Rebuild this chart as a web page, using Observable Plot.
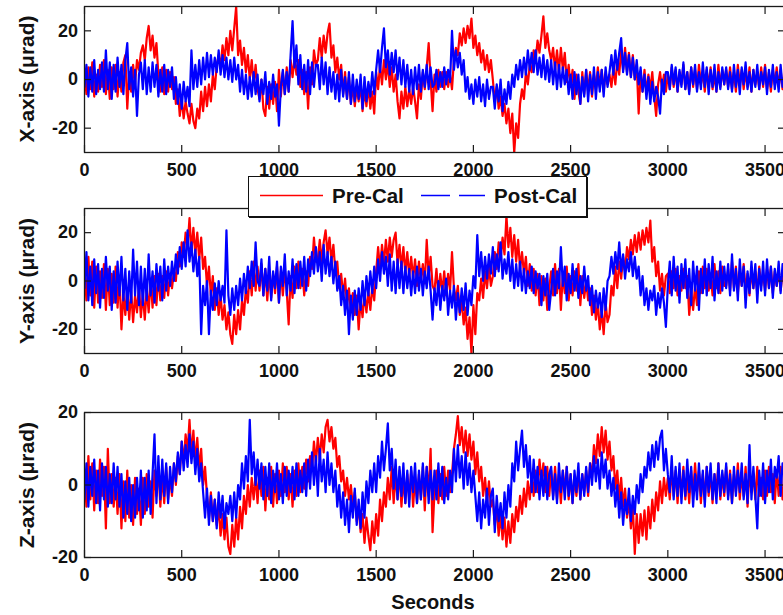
<!DOCTYPE html>
<html>
<head>
<meta charset="utf-8">
<script src="https://cdn.jsdelivr.net/npm/d3@7"></script>
<script src="https://cdn.jsdelivr.net/npm/@observablehq/plot@0.6"></script>
<style>
html, body { margin: 0; padding: 0; background: #fff; overflow: hidden; width: 783px; height: 615px; }
#wrap { position: relative; width: 783px; height: 615px; overflow: hidden; font-family: "Liberation Sans", Arial, sans-serif; font-weight: bold; color: #111; }
.panel { position: absolute; left: 0; width: 800px; }
.ylab { position: absolute; font-size: 21px; line-height: 21px; white-space: nowrap; transform: translate(-50%, -50%) rotate(-90deg); }
#xlab { position: absolute; left: 433px; top: 592px; font-size: 20px; line-height: 20px; transform: translateX(-50%); white-space: nowrap; }
#legend { position: absolute; left: 248px; top: 176px; width: 337px; height: 39px; border: 1px solid #111; background: #fff; box-shadow: 1px 1px 0 #111; }
</style>
</head>
<body>
<div id="wrap">
  <div class="panel" id="p1" style="top:0px"></div>
  <div class="panel" id="p2" style="top:185px"></div>
  <div class="panel" id="p3" style="top:390px"></div>
  <div class="ylab" style="left:26px; top:79px">X-axis (μrad)</div>
  <div class="ylab" style="left:26px; top:280.5px">Y-axis (μrad)</div>
  <div class="ylab" style="left:26px; top:484.5px">Z-axis (μrad)</div>
  <div id="xlab">Seconds</div>
  <div id="legend">
    <svg width="337" height="39" style="position:absolute;left:0;top:0;overflow:visible">
      <line x1="11" y1="18.5" x2="74" y2="18.5" stroke="#ff0000" stroke-width="1.5"></line>
      <text x="83" y="26" font-family="Liberation Sans, Arial, sans-serif" font-weight="bold" font-size="20.5" fill="#111">Pre-Cal</text>
      <line x1="172" y1="18.5" x2="236" y2="18.5" stroke="#0000ff" stroke-width="1.5" stroke-dasharray="29 9"></line>
      <text x="245" y="26" font-family="Liberation Sans, Arial, sans-serif" font-weight="bold" font-size="20.5" fill="#111">Post-Cal</text>
    </svg>
  </div>
</div>
<script>
// Sampling step (seconds) of the hand-read series; one row = 300 s
const STEP = 10;
const xTicks = [0, 500, 1000, 1500, 2000, 2500, 3000, 3500];
const yTicksXY = [-20, 0, 20];
const yTicksZ = [-20, 0, 20];

// X-axis, Pre-Cal (red)
const xPre = [
  3,-6,5,-4,7,-7,2,-5,6,-3,8,-6,4,-8,5,-4,6,-7,3,-5,7,10,-12,3,-5,6,-2,8,4,11,
  14,8,17,22,12,18,9,15,2,-5,5,-6,4,-5,3,-4,1,-10,-4,-15,-8,-16,-9,-14,-18,-10,-17,-20,-12,-16,
  -5,-13,-3,-11,-2,-9,2,-4,6,10,5,14,8,17,10,20,12,21,30,10,16,6,13,3,10,0,8,-2,6,-4,
  -8,0,-12,-15,-3,-12,-2,-10,-1,-13,4,-7,3,-6,5,-5,8,1,9,2,8,-3,4,-6,3,-12,5,-2,12,6,
  8,17,9,18,11,19,23,9,14,3,9,0,6,-6,3,-8,1,-10,-2,-11,-3,-9,-2,-13,-4,-11,-2,-12,-5,-14,
  3,-4,6,-2,8,0,7,-3,5,-5,2,-9,-16,-5,-12,-3,-11,-4,-10,-3,-9,-16,-2,-8,3,-4,5,15,0,-13,
  2,-5,4,-3,3,-4,3,-3,2,-4,8,13,10,19,14,21,15,22,17,25,13,18,10,15,7,12,4,10,3,8,
  0,-9,-3,-12,-7,-15,-10,-18,-12,-22,-14,-30,-18,-24,-10,-4,-8,3,-2,6,3,12,8,16,11,18,26,13,19,12,
  8,13,4,12,3,13,4,11,-1,6,-3,4,-8,2,-5,-10,3,-6,4,-5,3,-7,2,-4,5,-3,4,-5,3,-2,
  2,-3,5,-2,8,2,12,4,13,3,11,1,10,0,6,-14,3,-5,4,-6,2,-4,3,-7,-15,-2,3,-4,2,-5,
  2,-4,5,-3,4,-5,3,-2,6,-4,3,-5,5,-3,4,-4,6,-2,3,-5,4,-3,5,-4,2,-5,6,-3,4,-2,
  4,-3,5,-4,3,-5,6,-2,4,-4,3,-3,5,-5,4,-2,3,-4,5,-3,6,-4,3,-5,4,-2,5,-3,4,-4,
  2
];
// X-axis, Post-Cal (blue)
const xPost = [
  -3,6,-7,5,-5,8,-6,4,-4,7,-5,12,-4,7,-8,6,-5,9,-3,6,-6,8,15,-4,5,-7,4,-15,2,7,
  -4,8,-6,5,-5,7,-3,6,-7,4,-5,6,-6,4,-3,5,-8,1,-10,-2,-12,-1,-9,-3,-11,12,-4,6,-3,8,
  -2,9,0,11,1,10,2,9,3,12,2,10,1,9,0,8,-1,9,0,6,-5,4,-6,2,-8,1,-7,3,-6,2,
  -9,0,-6,3,-10,-1,-8,2,-7,-2,-19,-3,4,-6,3,-5,10,24,5,14,-2,10,-4,6,-5,8,-6,7,-3,6,
  6,-4,9,-2,7,-6,5,-5,3,-8,2,-9,4,-7,1,-8,3,-10,2,-9,0,-8,2,-12,1,-9,-1,-7,3,-6,
  4,12,3,13,21,5,12,2,11,3,12,0,9,-2,8,-3,6,-5,4,-6,5,-4,6,-5,4,-3,6,-4,5,-3,
  -2,4,-4,3,-3,5,-2,4,-1,20,4,12,5,11,2,8,-5,1,-8,-2,-10,0,-7,1,-9,-2,-11,0,-8,-3,
  -3,-12,-2,-9,0,-13,-4,-10,-1,-8,2,-3,6,0,8,1,9,2,12,4,11,3,12,2,9,1,10,0,8,-1,
  8,-2,7,-4,6,-3,5,-2,4,-6,2,-8,3,-6,2,-10,1,-7,4,-9,2,-6,5,-8,3,-5,4,-7,5,-3,
  3,10,2,12,4,11,17,3,11,2,10,1,9,0,8,-2,5,-5,2,-8,1,-10,-1,-9,-3,-7,-14,0,-6,3,
  3,-4,6,-2,5,-5,4,-3,7,-4,3,-6,5,-2,6,-5,3,-4,7,-3,5,-6,4,-3,6,-5,3,-4,5,-2,
  5,-4,3,-5,6,-3,4,-6,5,-2,7,-4,3,-5,4,-3,6,-4,3,-2,5,-6,4,-3,6,-4,3,-5,6,-3,
  2
];
// Y-axis, Pre-Cal (red)
const yPre = [
  5,-8,10,-6,8,-11,6,-9,4,-7,7,-12,5,-10,3,-9,6,-11,2,-20,-5,-14,-3,-16,-4,-17,-6,-13,-2,-15,
  -5,-16,-3,-13,1,-11,2,-10,3,-8,2,-7,4,-6,3,-3,4,0,12,6,16,10,20,14,26,12,22,11,20,9,
  18,5,10,-2,6,-6,2,-12,-3,-14,-6,-16,-10,-20,-13,-22,-26,-14,-22,-12,-20,-8,-14,-3,-9,4,-6,8,-4,6,
  -4,7,-6,5,-8,4,-7,3,-5,6,-9,4,-6,5,-4,-18,2,-7,6,-3,8,-3,5,-6,4,-2,10,5,18,8,
  9,17,8,16,21,11,18,8,15,4,8,-3,3,-6,1,-10,-3,-13,-5,-14,-6,-20,-8,-15,-5,-13,-4,-12,-2,-8,
  4,14,5,15,7,17,8,18,10,17,20,7,15,5,14,3,12,2,10,1,9,-2,8,0,7,-1,17,2,10,-2,
  -4,5,-6,3,-5,4,-6,3,-4,12,-3,-8,-2,-14,-8,-18,-11,-24,-15,-30,-10,-22,-5,-8,1,-7,4,-3,6,-2,
  2,12,5,16,9,18,11,27,14,22,10,19,8,17,5,12,3,10,-2,7,-4,5,-6,3,-10,2,-8,1,-12,-3,
  4,-6,7,-5,5,-12,3,-5,6,-8,2,-6,4,-4,7,-10,2,-7,0,-8,-3,-14,-6,-16,-9,-20,-12,-22,-9,-17,
  -14,-2,-6,6,-3,8,1,10,4,14,9,17,11,19,12,20,13,21,15,22,16,25,8,14,2,8,-4,3,-6,2,
  3,-5,4,-3,5,-6,2,-4,5,-3,2,-14,-4,-12,-2,-10,4,-5,6,-3,5,-4,3,-6,7,-3,4,-5,6,-2,
  -2,5,-4,8,-3,6,-5,4,-2,7,-4,3,-6,5,-3,4,-5,6,-2,3,-4,5,-3,6,-5,4,-2,5,-4,3,
  1
];
// Y-axis, Post-Cal (blue)
const yPost = [
  -3,12,-8,6,-10,9,-5,7,-11,5,-7,10,-4,6,-12,4,-9,8,-6,10,-8,5,-12,4,-9,13,-6,8,-10,6,
  -10,5,-8,11,-6,4,-9,7,-4,6,-8,9,-4,6,-2,8,0,11,3,14,5,16,6,21,8,16,4,13,2,10,
  -22,-2,-10,0,-22,-4,-12,-1,-10,0,-8,-2,-9,21,-6,-14,-3,-12,-2,-10,1,-8,3,-5,6,-3,8,-2,16,0,
  -2,9,-6,5,-4,10,-8,4,-3,8,-9,6,-2,11,-6,4,-4,9,-5,7,-3,8,-2,10,-4,9,2,12,3,14,
  4,12,0,15,3,12,2,10,-1,8,-4,2,-10,-2,-14,-4,-22,-6,-16,-4,-14,-3,-12,0,-10,2,-6,4,-5,6,
  -3,9,0,12,3,10,-2,11,-4,8,-5,9,-3,8,-5,6,-3,5,-6,4,-5,6,-4,5,-6,4,-3,6,-4,-16,
  -3,-10,0,-12,-2,-8,1,-14,-4,-11,-2,-16,-5,-13,-3,-12,-1,-14,-4,-10,2,-3,19,2,12,0,10,1,11,3,
  14,2,11,4,16,1,9,3,12,0,9,-3,7,-2,8,-4,5,-5,4,-3,6,-5,4,-3,3,-10,2,-6,3,-12,
  -4,5,-6,4,-3,14,-2,6,-8,3,-5,7,-4,5,-7,2,-5,6,-4,2,-10,-2,-13,-4,-11,-5,-15,-3,-12,0,
  2,10,3,12,5,16,4,11,1,9,4,12,2,10,1,6,-6,2,-10,-3,-12,-4,-8,-2,-14,-5,-11,-3,-9,-19,
  -2,8,-6,10,-4,6,-9,7,-3,9,-7,5,-10,8,-4,6,-12,5,-5,9,-6,7,-3,10,-8,4,-5,8,-4,6,
  -3,7,-6,11,-4,5,-8,9,-2,6,-11,4,-5,8,-3,7,-9,5,-4,8,-6,9,-3,6,-7,5,-2,8,-5,7,
  0
];
// Z-axis, Pre-Cal (red)
const zPre = [
  3,-6,8,-4,6,-7,4,-5,7,-3,5,-12,10,-5,3,-6,2,-8,3,-12,1,-10,4,-9,0,-11,2,-8,-1,-11,
  2,-8,3,-6,1,-9,4,-3,5,-6,3,-5,5,-4,2,-3,6,0,8,3,12,6,14,9,18,8,15,6,13,4,
  10,0,5,-3,-9,-2,-10,-4,-11,-6,-14,-8,-15,-9,-17,-19,-11,-17,-9,-15,-6,-12,-3,-8,0,-6,2,-4,3,-5,
  4,-3,5,-7,2,-4,5,-6,3,-5,4,-3,6,-2,5,-4,3,-6,4,-3,6,-2,5,-1,7,1,8,4,12,6,
  13,7,14,9,16,18,12,16,10,13,5,8,1,4,-3,2,-4,0,-6,-2,-10,-6,-13,-8,-16,-9,-14,-18,-10,-16,
  -8,-14,-4,-10,-2,-6,2,-4,5,-5,3,-4,4,-6,2,-5,3,-4,4,-6,2,-5,3,-4,5,-7,5,-3,10,-13,
  -2,4,-5,3,-4,5,-3,4,-2,3,10,14,19,11,16,9,15,8,14,7,12,3,9,1,5,-3,2,-5,1,-6,
  -4,-11,-6,-14,-8,-15,-9,-17,-10,-16,-8,-13,-6,-10,-3,-8,-1,-6,1,-4,3,-3,4,-2,7,1,6,-2,5,-3,
  4,-3,5,-4,3,-5,4,-2,5,-4,3,-5,2,-3,4,-4,3,-2,4,-3,6,2,11,6,14,8,16,9,15,7,
  12,4,8,-1,4,-4,2,-6,-1,-9,-4,-12,-6,-19,-8,-16,-8,-14,-7,-15,-6,-12,-4,-10,-2,-7,1,-5,2,-3,
  2,-4,5,-3,4,-5,3,-2,5,-4,3,-5,4,-3,6,-2,4,-5,3,-4,5,-3,4,-5,3,-2,6,-4,3,-3,
  5,-3,4,-5,3,-2,6,-4,3,-3,5,-6,4,-2,3,-4,5,-3,2,-4,4,-3,5,-2,3,-5,4,-3,5,-4,
  1
];
// Z-axis, Post-Cal (blue)
const zPost = [
  -4,6,-6,5,-3,7,-5,4,-7,6,-4,5,-6,3,-5,6,-4,5,-6,3,-9,1,-8,2,-10,0,-9,2,-7,4,
  -9,2,-7,4,-8,3,14,-5,8,-4,7,-3,6,-5,5,-2,6,1,9,3,12,4,11,5,14,6,12,3,10,1,
  6,-2,-9,-1,-11,-3,-10,-4,-12,-2,-9,-3,-12,-5,-8,-3,-10,-2,-9,0,-4,6,-1,8,1,18,3,9,0,7,
  -1,6,-4,5,-3,6,-5,4,-2,6,-4,3,-5,5,-3,4,-2,5,-4,6,-3,4,-2,6,-3,7,-1,9,0,8,
  -3,10,1,7,-2,9,0,6,-2,4,-6,0,-9,-2,-11,-4,-13,-3,-9,-1,-11,-4,-12,-2,-9,1,-5,4,-2,6,
  -2,8,2,12,4,10,17,4,10,-1,7,-4,5,-3,6,-5,4,-6,5,-2,6,-5,4,-4,6,-3,5,-5,4,-4,
  4,-4,6,-3,5,-5,2,-4,4,-2,10,1,11,2,8,-1,9,0,6,-2,4,-3,-10,-2,-12,-4,-9,-1,-11,-3,
  -1,-13,-3,-10,-5,-12,-2,-9,0,-6,6,1,12,4,10,15,5,11,2,8,-2,7,-2,5,-4,4,-3,5,-4,3,
  5,-4,3,-5,6,-2,4,-4,5,-3,3,-5,4,-2,6,-4,3,-3,5,-2,6,0,8,1,7,-1,9,2,7,-1,
  4,-3,2,-6,0,-9,-2,-11,-4,-8,-1,-10,-3,-8,0,-5,3,-2,5,2,9,4,11,5,12,7,13,15,4,10,
  3,-2,8,-4,5,-3,6,-5,4,-3,7,-2,5,-6,3,-4,6,-3,4,-6,5,-2,6,-4,3,-5,6,-3,4,-2,
  6,-4,3,-5,5,-3,4,-2,6,-4,3,-5,11,-4,5,-3,-12,4,-3,6,-5,4,-2,7,-4,5,2,8,-3,6,
  3
];

const fmt = d => String(d);
const toPts = vals => vals.map((v, i) => ({t: i * STEP, v}));

function panel(pre, post, yDomain, yTicks, marginTop, height) {
  return Plot.plot({
    width: 800,
    height,
    marginLeft: 84,
    marginRight: 16,
    marginTop,
    marginBottom: 30,
    style: {background: "transparent", overflow: "visible", fontFamily: "Liberation Sans, Arial, sans-serif", fontWeight: "bold", fontSize: "18px", color: "#111"},
    x: {domain: [0, 3600], label: null},
    y: {domain: yDomain, label: null},
    marks: [
      Plot.line(toPts(pre), {x: "t", y: "v", stroke: "#ff0000", strokeWidth: 2.2, clip: true}),
      Plot.line(toPts(post), {x: "t", y: "v", stroke: "#0000ff", strokeWidth: 2.2, clip: true}),
      Plot.frame({stroke: "#1a1a1a", strokeWidth: 1.3}),
      Plot.axisX({ticks: xTicks, anchor: "bottom", tickSize: -7, tickPadding: 18, tickFormat: fmt, label: null, fontSize: 18, stroke: "#1a1a1a", strokeWidth: 1.2}),
      Plot.axisX({ticks: xTicks, anchor: "top", tickSize: -7, tickFormat: () => "", label: null, stroke: "#1a1a1a", strokeWidth: 1.2}),
      Plot.axisY({ticks: yTicks, anchor: "left", tickSize: -7, tickPadding: 13.5, tickFormat: fmt, label: null, fontSize: 18, stroke: "#1a1a1a", strokeWidth: 1.2}),
      Plot.axisY({ticks: yTicks, anchor: "right", tickSize: -7, tickFormat: () => "", label: null, stroke: "#1a1a1a", strokeWidth: 1.2})
    ]
  });
}

document.getElementById("p1").append(panel(xPre, xPost, [-30, 30], yTicksXY, 6, 182));
document.getElementById("p2").append(panel(yPre, yPost, [-30, 30], yTicksXY, 23, 198));
document.getElementById("p3").append(panel(zPre, zPost, [-20, 20], yTicksZ, 22, 197));
</script>
</body>
</html>
